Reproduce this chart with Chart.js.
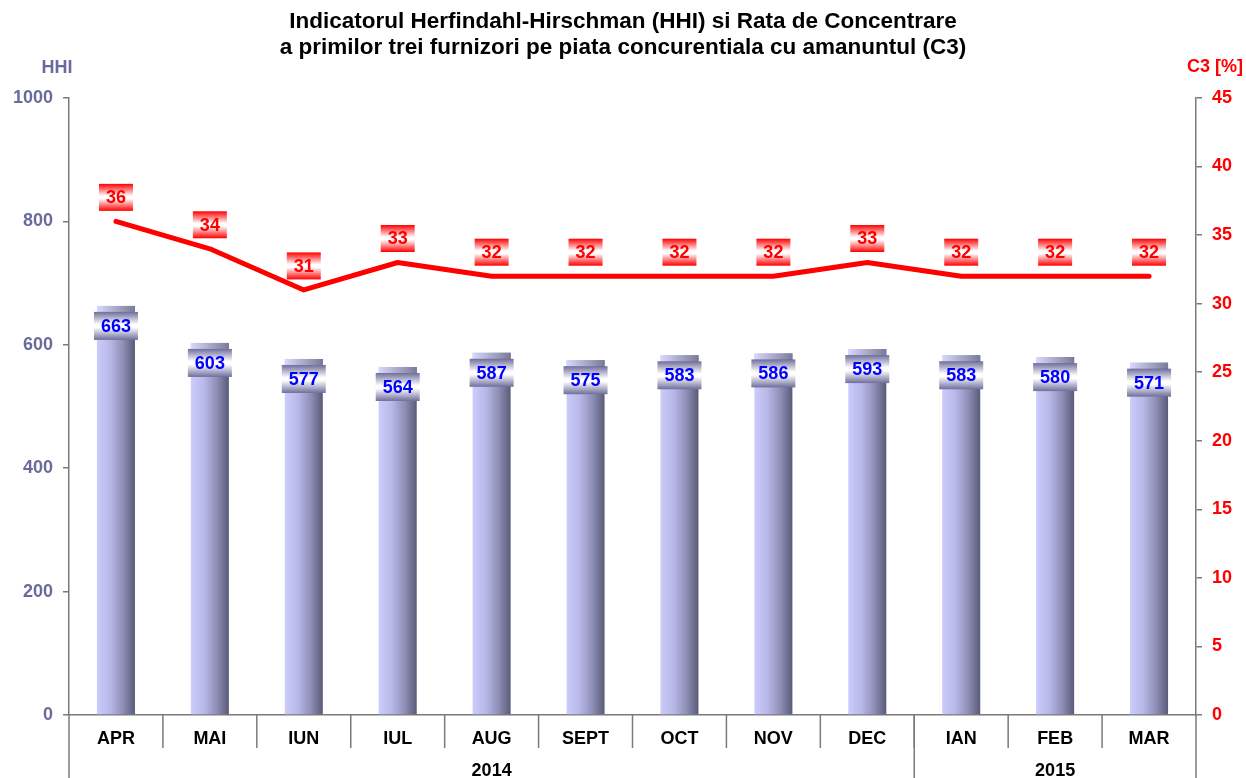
<!DOCTYPE html>
<html>
<head>
<meta charset="utf-8">
<script src="https://cdn.jsdelivr.net/npm/chart.js@4.4.1/dist/chart.umd.min.js"></script>
<style>
  html, body { margin: 0; padding: 0; background: #fff; }
  #wrap { width: 1246px; height: 778px; }
</style>
</head>
<body>
<div id="wrap"><canvas id="c" width="1246" height="778"></canvas></div>
<script>
const months = ["APR", "MAI", "IUN", "IUL", "AUG", "SEPT", "OCT", "NOV", "DEC", "IAN", "FEB", "MAR"]
const years = [{ label: "2014", from: 0, to: 8 }, { label: "2015", from: 9, to: 11 }]
const hhi = [663, 603, 577, 564, 587, 575, 583, 586, 593, 583, 580, 571]
const c3 = [36, 34, 31, 33, 32, 32, 32, 32, 33, 32, 32, 32]
const hhiTicks = [0, 200, 400, 600, 800, 1000]
const c3Ticks = [0, 5, 10, 15, 20, 25, 30, 35, 40, 45]

const axisColor = "#7a7a7a"
const hhiColor = "#6a6a9c"
const c3Color = "#ff0000"
const font = "Liberation Sans, Arial, sans-serif"
const labelFont = "bold 18px " + font

// cylinder-like shading for each bar
function barGradient(context) {
  const chart = context.chart
  if (!chart.chartArea || !chart.scales.x) return "#a0a0d0"
  const x = chart.scales.x.getPixelForValue(context.dataIndex)
  const g = chart.ctx.createLinearGradient(x - 19, 0, x + 19, 0)
  g.addColorStop(0, "#ccccfc")
  g.addColorStop(0.35, "#b8b8e8")
  g.addColorStop(0.7, "#8c8cb4")
  g.addColorStop(1, "#5a5a78")
  return g
}

function boxedText(ctx, text, cx, cy, w, h, edge, mid, color) {
  const g = ctx.createLinearGradient(0, cy - h / 2, 0, cy + h / 2)
  g.addColorStop(0, edge)
  g.addColorStop(0.45, mid)
  g.addColorStop(0.55, mid)
  g.addColorStop(1, edge)
  ctx.fillStyle = g
  ctx.fillRect(cx - w / 2, cy - h / 2, w, h)
  ctx.fillStyle = color
  ctx.font = labelFont
  ctx.textAlign = "center"
  ctx.textBaseline = "middle"
  ctx.fillText(text, cx, cy + 1)
}

const decorPlugin = {
  id: "decor",
  afterDatasetsDraw(chart) {
    const ctx = chart.ctx
    const area = chart.chartArea
    const xs = chart.scales.x
    ctx.save()

    // bar tops (cylinder cap)
    const barMeta = chart.getDatasetMeta(0)
    barMeta.data.forEach((bar) => {
      const g = ctx.createLinearGradient(bar.x - bar.width / 2, 0, bar.x + bar.width / 2, 0)
      g.addColorStop(0, "#d8d8fc")
      g.addColorStop(1, "#7a7a98")
      ctx.fillStyle = g
      ctx.fillRect(bar.x - bar.width / 2, bar.y, bar.width, 6)
    })

    // value labels for bars
    barMeta.data.forEach((bar, i) => {
      boxedText(ctx, String(hhi[i]), bar.x, bar.y + 20, 44, 28, "#6e6e9c", "#ffffff", "#0000ff")
    })

    // value labels for line
    const lineMeta = chart.getDatasetMeta(1)
    lineMeta.data.forEach((pt, i) => {
      boxedText(ctx, String(c3[i]), pt.x, pt.y - 24, 34, 27, "#ff0000", "#ffffff", "#ff0000")
    })

    // x-axis category separators and year groups
    ctx.strokeStyle = axisColor
    ctx.lineWidth = 1.5
    const step = xs.getPixelForValue(1) - xs.getPixelForValue(0)
    for (let i = 1; i < months.length; i++) {
      const x = xs.getPixelForValue(i) - step / 2
      ctx.beginPath()
      ctx.moveTo(x, area.bottom)
      ctx.lineTo(x, area.bottom + 33)
      ctx.stroke()
    }
    const edges = [area.left, area.right]
    years.forEach((y) => {
      if (y.from > 0) edges.push(xs.getPixelForValue(y.from) - step / 2)
    })
    edges.forEach((x) => {
      ctx.beginPath()
      ctx.moveTo(x, area.bottom)
      ctx.lineTo(x, chart.height)
      ctx.stroke()
    })
    ctx.fillStyle = "#000"
    ctx.font = labelFont
    ctx.textAlign = "center"
    ctx.textBaseline = "middle"
    years.forEach((y) => {
      const x0 = xs.getPixelForValue(y.from) - step / 2
      const x1 = xs.getPixelForValue(y.to) + step / 2
      ctx.fillText(y.label, (x0 + x1) / 2, area.bottom + 56)
    })

    // axis titles
    ctx.fillStyle = hhiColor
    ctx.fillText("HHI", 57, 68)
    ctx.fillStyle = c3Color
    ctx.fillText("C3 [%]", 1215, 67)

    ctx.restore()
  }
}

new Chart(document.getElementById("c"), {
  type: "bar",
  data: {
    labels: months,
    datasets: [
      {
        type: "bar",
        data: hhi,
        yAxisID: "y",
        backgroundColor: barGradient,
        barPercentage: 0.405,
        categoryPercentage: 1,
        order: 2
      },
      {
        type: "line",
        data: c3,
        yAxisID: "y1",
        borderColor: "#ff0000",
        borderWidth: 5,
        borderCapStyle: "round",
        borderJoinStyle: "round",
        pointRadius: 0,
        tension: 0,
        order: 1
      }
    ]
  },
  options: {
    responsive: false,
    animation: false,
    events: [],
    layout: { padding: { left: 0, right: 0, top: 0, bottom: 0 } },
    plugins: {
      legend: { display: false },
      tooltip: { enabled: false },
      title: {
        display: true,
        text: [
          "Indicatorul Herfindahl-Hirschman (HHI) si Rata de Concentrare",
          "a primilor trei furnizori pe piata concurentiala cu amanuntul (C3)"
        ],
        color: "#000",
        font: { family: font, size: 22.5, weight: "bold", lineHeight: 1.15 },
        padding: { top: 9, bottom: 37.2 }
      }
    },
    scales: {
      x: {
        offset: true,
        grid: { display: true, drawOnChartArea: false, drawTicks: false },
        border: { display: true, color: axisColor, width: 1.5 },
        ticks: { color: "#000", font: { family: font, size: 18, weight: "bold" }, padding: 13, maxRotation: 0, autoSkip: false },
        afterFit(scale) { scale.height = 63 }
      },
      y: {
        position: "left",
        min: 0,
        max: 1000,
        afterBuildTicks(scale) { scale.ticks = hhiTicks.map((v) => ({ value: v })) },
        grid: { drawOnChartArea: false, color: axisColor, tickLength: 6, lineWidth: 1.5 },
        border: { display: true, color: axisColor, width: 1.5 },
        ticks: {
          color: hhiColor,
          font: { family: font, size: 18, weight: "bold" },
          padding: 10,
          callback: (v) => String(v)
        },
        afterFit(scale) { scale.width = 69 }
      },
      y1: {
        position: "right",
        min: 0,
        max: 45,
        afterBuildTicks(scale) { scale.ticks = c3Ticks.map((v) => ({ value: v })) },
        grid: { drawOnChartArea: false, color: axisColor, tickLength: 6, lineWidth: 1.5 },
        border: { display: true, color: axisColor, width: 1.5 },
        ticks: { color: c3Color, font: { family: font, size: 18, weight: "bold" }, padding: 10 },
        afterFit(scale) { scale.width = 50 }
      }
    }
  },
  plugins: [decorPlugin]
})
</script>
</body>
</html>
